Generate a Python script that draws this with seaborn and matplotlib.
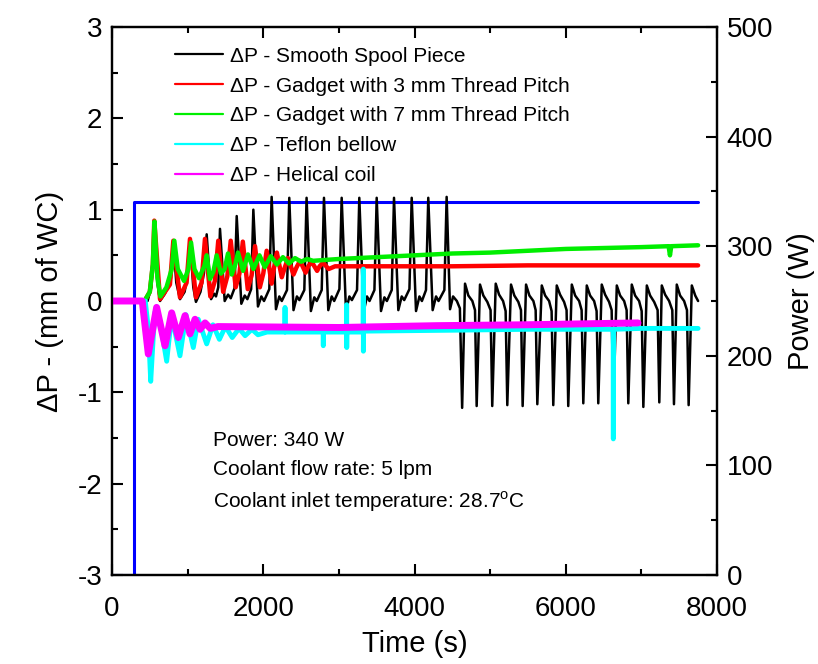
import numpy as np
import pandas as pd
import matplotlib
matplotlib.use("Agg")
import matplotlib.pyplot as plt
import seaborn as sns
from matplotlib.ticker import MultipleLocator

# ---------------- data ----------------
# Power (right axis)
pw_t = [0, 290, 290, 7750]
pw_v = [0, 0, 340, 340]

# Smooth spool piece (black) - start-up part
bk0_t = [0, 470, 520, 545, 559, 600, 635, 700, 780, 811, 850, 899, 960, 1000, 1031, 1075, 1110, 1170, 1215]
bk0_v = [0.0, 0.0, 0.15, 0.5, 0.86, 0.2, 0.0, 0.08, 0.25, 0.64, 0.2, 0.02, 0.1, 0.28, 0.65, 0.15, -0.01, 0.1, 0.3]
# phase 1 cycles (peak, trough, shoulder, notch, pre-rise)
bk1_peak_t = [1252, 1428, 1649, 1869, 2111, 2344, 2573, 2803, 3037, 3270, 3500, 3729, 3963, 4182]
bk1_peak_v = [0.73, 0.79, 0.93, 1.00, 1.14, 1.13, 1.13, 1.13, 1.13, 1.13, 1.13, 1.13, 1.13, 1.13]
bk1_trough_t = [1310, 1490, 1710, 1930, 2168, 2400, 2630, 2860, 3094, 3327, 3557, 3786, 4020, 4240]
bk1_trough_v = [0.02, 0.0, -0.03, -0.06, -0.09, -0.1, -0.11, -0.1, -0.11, -0.12, -0.11, -0.1, -0.11, -0.1]
bk1_shoulder_t = [1350, 1535, 1755, 1975, 2212, 2445, 2675, 2905, 3139, 3372, 3602, 3831, 4065, 4285]
bk1_shoulder_v = [0.08, 0.07, 0.06, 0.05, 0.05, 0.05, 0.04, 0.05, 0.05, 0.05, 0.04, 0.05, 0.05, 0.05]
bk1_notch_t = [1375, 1570, 1790, 2010, 2245, 2478, 2708, 2938, 3172, 3405, 3635, 3864, 4098, 4318]
bk1_notch_v = [0.05, 0.03, 0.02, 0.0, 0.0, 0.01, 0.0, 0.0, 0.01, 0.0, 0.0, 0.01, 0.0, 0.0]
bk1_rise_t = [1405, 1620, 1840, 2080, 2314, 2543, 2773, 3007, 3240, 3470, 3699, 3933, 4152, 4395]
bk1_rise_v = [0.15, 0.14, 0.13, 0.13, 0.12, 0.12, 0.12, 0.13, 0.12, 0.12, 0.12, 0.13, 0.12, 0.12]
# transition
bkx_t = [4425, 4470, 4510, 4560, 4600]
bkx_v = [1.14, -0.09, 0.05, 0.0, -0.08]
# phase 2 cycles (trough, peak, knee, sag, drop)
bk2_trough_t = [4630, 4822, 5028, 5227, 5430, 5624, 5835, 6033, 6232, 6430, 6629, 6827, 7026, 7237, 7431, 7625]
bk2_trough_v = [-1.17, -1.15, -1.15, -1.14, -1.15, -1.13, -1.14, -1.15, -1.12, -1.12, -1.16, -1.12, -1.16, -1.11, -1.13, -1.14]
bk2_peak_t = [4668, 4866, 5074, 5276, 5475, 5683, 5881, 6080, 6278, 6476, 6675, 6873, 7072, 7270, 7468, 7667]
bk2_peak_v = [0.19, 0.18, 0.19, 0.18, 0.18, 0.17, 0.17, 0.18, 0.17, 0.18, 0.17, 0.18, 0.17, 0.17, 0.18, 0.17]
bk2_knee_t = [4712, 4910, 5118, 5320, 5519, 5727, 5925, 6124, 6322, 6520, 6719, 6917, 7116, 7314, 7512, 7712]
bk2_knee_v = [0.06, 0.06, 0.07, 0.06, 0.06, 0.06, 0.07, 0.06, 0.06, 0.07, 0.06, 0.06, 0.06, 0.07, 0.06, 0.06]
bk2_sag_t = [4765, 4963, 5171, 5373, 5572, 5780, 5978, 6177, 6375, 6573, 6772, 6970, 7169, 7367, 7565]
bk2_sag_v = [0.0, -0.01, 0.0, -0.01, 0.0, 0.0, -0.01, 0.0, 0.0, -0.01, 0.0, 0.0, -0.01, 0.0, 0.0]
bk2_drop_t = [4800, 5006, 5205, 5408, 5602, 5813, 6011, 6210, 6408, 6607, 6805, 7004, 7215, 7409, 7603]
bk2_drop_v = [-0.1, -0.1, -0.11, -0.1, -0.1, -0.11, -0.1, -0.1, -0.11, -0.1, -0.1, -0.11, -0.1, -0.1, -0.1]
bk_end_t = [7750]
bk_end_v = [0.0]

# Gadget 3 mm (red)
rd0_t = [0, 430, 500, 540]
rd0_v = [0.0, 0.0, 0.1, 0.4]
rd_peak_t = [559, 811, 1031, 1229, 1405, 1570, 1730, 1891, 2045, 2180, 2327, 2486, 2640, 2790]
rd_peak_v = [0.88, 0.66, 0.68, 0.68, 0.66, 0.66, 0.65, 0.60, 0.55, 0.53, 0.47, 0.44, 0.43, 0.42]
rd_trough_t = [635, 899, 1110, 1300, 1470, 1635, 1795, 1955, 2110, 2245, 2400, 2560, 2712, 2865]
rd_trough_v = [0.02, 0.04, 0.04, 0.05, 0.10, 0.15, 0.13, 0.15, 0.19, 0.26, 0.29, 0.31, 0.33, 0.35]
rd_rise_t = [766, 986, 1184, 1360, 1525, 1685, 1846, 2000, 2135, 2282, 2441, 2595, 2745]
rd_rise_v = [0.18, 0.2, 0.2, 0.22, 0.27, 0.3, 0.28, 0.3, 0.33, 0.36, 0.37, 0.38, 0.38]
rd1_t = [2950, 3500, 4500, 5500, 6500, 7750]
rd1_v = [0.38, 0.38, 0.38, 0.39, 0.39, 0.39]

# Gadget 7 mm (green)
gr_t = [0, 430, 500, 540, 562, 600, 640, 720, 790, 824, 870, 952, 1010, 1045, 1090, 1150, 1220,
        1252, 1296, 1340, 1384, 1440, 1490, 1534, 1583, 1630, 1666, 1733, 1798, 1870, 1950, 2020,
        2100, 2180, 2260, 2340, 2420, 2500, 2580, 2660, 3000, 3500, 4000, 4500, 5000, 5500, 6000,
        6500, 7000, 7360, 7378, 7395, 7750]
gr_v = [0.0, 0.0, 0.1, 0.4, 0.87, 0.25, 0.05, 0.15, 0.35, 0.66, 0.35, 0.22, 0.35, 0.64, 0.35, 0.25, 0.38,
        0.5, 0.24, 0.32, 0.5, 0.3, 0.35, 0.52, 0.29, 0.4, 0.53, 0.33, 0.51, 0.35, 0.5, 0.37,
        0.49, 0.4, 0.48, 0.41, 0.47, 0.43, 0.46, 0.44, 0.46, 0.48, 0.5, 0.52, 0.53, 0.55, 0.57,
        0.58, 0.59, 0.6, 0.5, 0.6, 0.61]

# Teflon bellow (cyan)
cy_t = [0, 440, 480, 512, 545, 569, 650, 723, 789, 899, 978, 1075, 1141, 1252, 1335, 1420, 1500,
        1590, 1680, 1760, 1850, 1930, 2050, 2286, 2288, 2290, 2792, 2794, 2796, 3101, 3103, 3104, 3106,
        3321, 3323, 3324, 3326, 4500, 5500, 6627, 6629, 6631, 7000, 7750]
cy_v = [0.0, 0.0, -0.3, -0.88, -0.4, -0.12, -0.3, -0.66, -0.16, -0.6, -0.15, -0.51, -0.2, -0.47, -0.26,
        -0.42, -0.28, -0.4, -0.3, -0.38, -0.31, -0.37, -0.34, -0.34, -0.07, -0.34, -0.34, -0.49, -0.34,
        -0.34, -0.04, -0.51, -0.34, -0.34, 0.35, -0.55, -0.33, -0.32, -0.31, -0.31, -1.51, -0.31, -0.3, -0.3]

# Helical coil (magenta)
mg_t = [0, 400, 480, 590, 701, 789, 877, 966, 1031, 1098, 1164, 1230, 1300, 1400, 3000, 4300, 5500, 6955]
mg_v = [0.0, 0.0, -0.58, -0.07, -0.49, -0.13, -0.4, -0.16, -0.36, -0.2, -0.31, -0.24, -0.3, -0.28,
        -0.29, -0.27, -0.26, -0.24]

labels = ["\u0394P - Smooth Spool Piece", "\u0394P - Gadget with 3 mm Thread Pitch",
          "\u0394P - Gadget with 7 mm Thread Pitch", "\u0394P - Teflon bellow", "\u0394P - Helical coil"]
colors = ["#000000", "#ff0000", "#00ee00", "#00ffff", "#ff00ff"]
widths = [1.8, 3.2, 3.2, 3.5, 5.0]

# ---------------- assemble vertex sequences ----------------
bk_t, bk_v = list(bk0_t), list(bk0_v)
for a in zip(bk1_peak_t, bk1_peak_v, bk1_trough_t, bk1_trough_v, bk1_shoulder_t, bk1_shoulder_v,
             bk1_notch_t, bk1_notch_v, bk1_rise_t, bk1_rise_v):
    bk_t += [a[0], a[2], a[4], a[6], a[8]]
    bk_v += [a[1], a[3], a[5], a[7], a[9]]
bk_t += bkx_t
bk_v += bkx_v
n2 = len(bk2_trough_t)
for i in range(n2):
    bk_t += [bk2_trough_t[i], bk2_peak_t[i], bk2_knee_t[i]]
    bk_v += [bk2_trough_v[i], bk2_peak_v[i], bk2_knee_v[i]]
    if i < n2 - 1:
        bk_t += [bk2_sag_t[i], bk2_drop_t[i]]
        bk_v += [bk2_sag_v[i], bk2_drop_v[i]]
bk_t += bk_end_t
bk_v += bk_end_v

rd_t, rd_v = list(rd0_t), list(rd0_v)
for i in range(len(rd_peak_t)):
    if i > 0:
        rd_t.append(rd_rise_t[i - 1]); rd_v.append(rd_rise_v[i - 1])
    rd_t += [rd_peak_t[i], rd_trough_t[i]]
    rd_v += [rd_peak_v[i], rd_trough_v[i]]
rd_t += rd1_t
rd_v += rd1_v

series = [(bk_t, bk_v), (rd_t, rd_v), (gr_t, gr_v), (cy_t, cy_v), (mg_t, mg_v)]

# ---------------- plot ----------------
sns.set_theme(style="ticks")
plt.rcParams['font.family'] = ['Liberation Sans', 'DejaVu Sans']
plt.rcParams['mathtext.fontset'] = 'custom'
plt.rcParams['mathtext.rm'] = 'Liberation Sans'
plt.rcParams['axes.linewidth'] = 1.6
plt.rcParams['axes.unicode_minus'] = False
for k in ['text.color', 'axes.labelcolor', 'xtick.color', 'ytick.color', 'axes.edgecolor']:
    plt.rcParams[k] = 'black'

fig = plt.figure(figsize=(8.18, 6.64), dpi=100)
ax = fig.add_axes([112 / 818, 1 - 575 / 664, (717 - 112) / 818, (575 - 27) / 664])
ax2 = ax.twinx()

sns.lineplot(x=pw_t, y=pw_v, ax=ax2, color="#0000ff", lw=2.2, sort=False, estimator=None)

handles = []
for (t, v), lab, c, w in zip(series, labels, colors, widths):
    sns.lineplot(x=t, y=v, ax=ax, color=c, lw=w, sort=False, estimator=None)
    handles.append(plt.Line2D([], [], color=c, lw=1.6, label=lab))

ax.set_zorder(ax2.get_zorder() + 1)
ax.patch.set_visible(False)

ax.set_xlim(0, 8000)
ax.set_ylim(-3, 3)
ax2.set_ylim(0, 500)
ax.xaxis.set_major_locator(MultipleLocator(2000))
ax.xaxis.set_minor_locator(MultipleLocator(1000))
ax.yaxis.set_major_locator(MultipleLocator(1))
ax.yaxis.set_minor_locator(MultipleLocator(0.5))
ax2.yaxis.set_major_locator(MultipleLocator(100))
ax2.yaxis.set_minor_locator(MultipleLocator(50))

ax.tick_params(axis='both', which='major', direction='in', length=8, width=1.5, labelsize=20,
               top=True)
ax.tick_params(axis='x', which='major', pad=15)
ax.tick_params(axis='y', which='major', pad=7)
ax.tick_params(axis='both', which='minor', direction='in', length=4, width=1.5, top=True)
ax.tick_params(axis='y', which='both', right=False)
ax2.tick_params(axis='y', which='major', direction='in', length=8, width=1.5, labelsize=20, pad=7)
ax2.tick_params(axis='y', which='minor', direction='in', length=4, width=1.5)

ax.set_xlabel("Time (s)", fontsize=21, labelpad=6)
ax.set_ylabel("\u0394P - (mm of WC)", fontsize=21, labelpad=10)
ax2.set_ylabel("Power (W)", fontsize=21, labelpad=10)

ax.legend(handles=handles, loc='upper left', bbox_to_anchor=(0.104, 0.964), frameon=False,
          fontsize=15, handlelength=2.3, handletextpad=0.35, labelspacing=0.52,
          borderpad=0, borderaxespad=0)

ax.text(0.167, 0.246, "Power: 340 W", transform=ax.transAxes, fontsize=15, va='center')
ax.text(0.167, 0.192, "Coolant flow rate: 5 lpm", transform=ax.transAxes, fontsize=15, va='center')
ax.text(0.167, 0.133, r"Coolant inlet temperature: 28.7$^{\mathrm{o}}$C", transform=ax.transAxes,
        fontsize=15, va='center')

fig.savefig("out.png", dpi=100)
